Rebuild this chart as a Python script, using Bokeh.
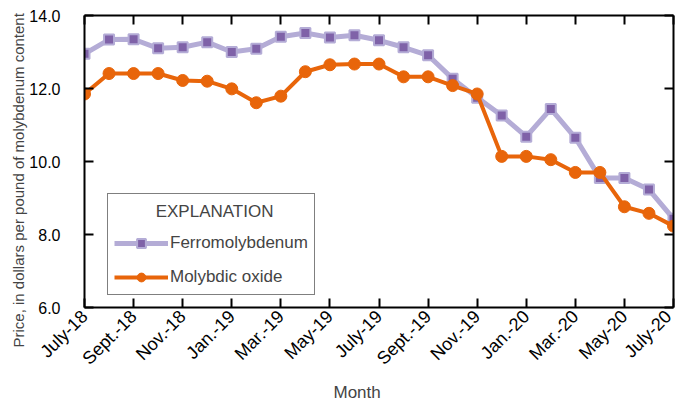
import math
from bokeh.plotting import figure
from bokeh.models import (ColumnDataSource, LinearAxis, FixedTicker, Range1d,
                          Legend, LegendItem, Label, Title, PrintfTickFormatter)
from bokeh.embed import file_html
from bokeh.resources import INLINE

months = ["July-18", "Aug.-18", "Sept.-18", "Oct.-18", "Nov.-18", "Dec.-18",
          "Jan.-19", "Feb.-19", "Mar.-19", "Apr.-19", "May-19", "June-19",
          "July-19", "Aug.-19", "Sept.-19", "Oct.-19", "Nov.-19", "Dec.-19",
          "Jan.-20", "Feb.-20", "Mar.-20", "Apr.-20", "May-20", "June-20", "July-20"]
tick_labels = ["July-18", "Sept.-18", "Nov.-18", "Jan.-19", "Mar.-19", "May-19",
               "July-19", "Sept.-19", "Nov.-19", "Jan.-20", "Mar.-20", "May-20", "July-20"]
ferromolybdenum = [12.95, 13.34, 13.35, 13.10, 13.13, 13.27, 13.00, 13.09, 13.42,
                   13.52, 13.40, 13.46, 13.32, 13.13, 12.91, 12.27, 11.75, 11.26,
                   10.68, 11.44, 10.65, 9.55, 9.55, 9.23, 8.43]
molybdic_oxide = [11.85, 12.41, 12.41, 12.41, 12.22, 12.20, 11.99, 11.61, 11.79,
                  12.46, 12.65, 12.67, 12.67, 12.32, 12.32, 12.08, 11.85, 10.14,
                  10.14, 10.05, 9.70, 9.70, 8.76, 8.58, 8.23]

FONT = "Liberation Sans"
PURPLE_LINE = "#b4acd6"
PURPLE_MARK = "#7f62a8"
ORANGE = "#e8650a"

idx = list(range(len(months)))
src = ColumnDataSource(dict(x=idx, ferro=ferromolybdenum, moly=molybdic_oxide))

p = figure(width=675, height=405, output_backend="svg", toolbar_location=None,
           x_range=Range1d(0, len(months) - 1), y_range=Range1d(6, 14),
           min_border_left=84, min_border_right=2, min_border_top=15,
           min_border_bottom=98)
p.xgrid.visible = False
p.ygrid.visible = False
p.outline_line_color = None
p.background_fill_color = "white"

l1 = p.line("x", "ferro", source=src, line_color=PURPLE_LINE, line_width=5)
s1 = p.scatter("x", "ferro", source=src, marker="square", size=10,
               fill_color=PURPLE_MARK, line_color=PURPLE_LINE, line_width=2)
l2 = p.line("x", "moly", source=src, line_color=ORANGE, line_width=4)
s2 = p.scatter("x", "moly", source=src, marker="circle", size=12,
               fill_color=ORANGE, line_color=ORANGE)

tick_pos = [i for i in idx if i % 2 == 0]

def style_axis(ax, labels=True):
    ax.axis_line_width = 2
    ax.axis_line_color = "black"
    ax.major_tick_in = 9
    ax.major_tick_out = 0
    ax.major_tick_line_width = 2
    ax.minor_tick_line_color = None
    if not labels:
        ax.major_label_text_font_size = "0px"
        ax.major_label_text_alpha = 0

xa = p.xaxis[0]
xa.ticker = FixedTicker(ticks=tick_pos)
xa.major_label_overrides = {t: lab for t, lab in zip(tick_pos, tick_labels)}
xa.major_label_orientation = math.pi / 4
xa.major_label_text_font = FONT
xa.major_label_text_font_size = "18px"
xa.major_label_text_color = "black"
xa.major_label_standoff = 6
style_axis(xa)

ya = p.yaxis[0]
ya.ticker = FixedTicker(ticks=[6, 8, 10, 12, 14])
ya.formatter = PrintfTickFormatter(format="%.1f")
ya.major_label_text_font = FONT
ya.major_label_text_font_size = "16px"
ya.major_label_text_color = "black"
ya.major_label_standoff = 24
style_axis(ya)

top = LinearAxis(ticker=FixedTicker(ticks=tick_pos))
style_axis(top, labels=False)
p.add_layout(top, "above")
right = LinearAxis(ticker=FixedTicker(ticks=[6, 8, 10, 12, 14]))
style_axis(right, labels=False)
p.add_layout(right, "right")

p.add_layout(Title(text="Month", text_font=FONT, text_font_size="17px",
                   text_font_style="normal", align="left", offset=249,
                   standoff=4), "below")
p.add_layout(Title(text="Price, in dollars per pound of molybdenum content",
                   text_font=FONT, text_font_size="15px",
                   text_font_style="normal", align="left", offset=-40,
                   standoff=0), "left")

legend = Legend(items=[LegendItem(label="Ferromolybdenum", renderers=[l1, s1]),
                       LegendItem(label="Molybdic oxide", renderers=[l2, s2])],
                location=(23, 12), title="EXPLANATION",
                title_text_font=FONT, title_text_font_size="17px",
                title_text_alpha=0, title_standoff=12,
                label_text_font=FONT, label_text_font_size="17px",
                glyph_width=54, glyph_height=22, label_standoff=2,
                spacing=12, padding=6, margin=0,
                border_line_color="black", border_line_width=1.5,
                background_fill_alpha=0)
p.add_layout(legend, "center")

title = Label(x=5.3, y=8.63, text="EXPLANATION", text_font=FONT,
              text_font_size="17px", text_align="center", text_baseline="middle",
              level="overlay")
p.add_layout(title)

open("out.html", "w").write(file_html(p, INLINE))
